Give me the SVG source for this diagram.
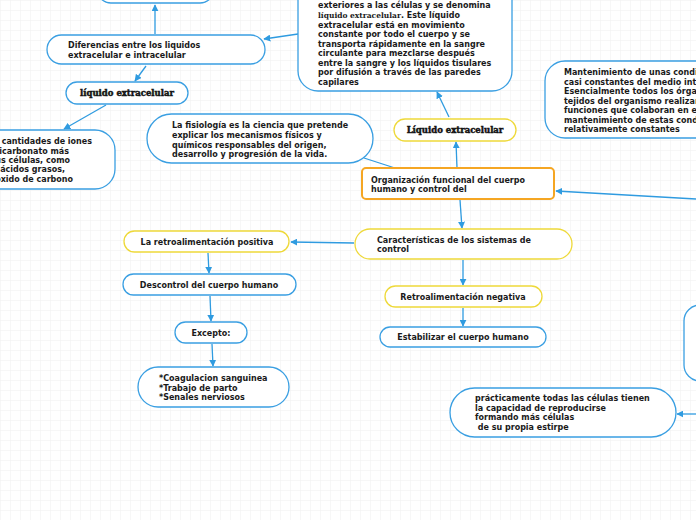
<svg xmlns="http://www.w3.org/2000/svg" width="696" height="520" viewBox="0 0 696 520">
<defs>
<pattern id="grid" width="10" height="10" patternUnits="userSpaceOnUse">
<path d="M10 0H0V10" fill="none" stroke="#f0f0f0" stroke-width="1"/>
</pattern>
<marker id="arr" viewBox="0 0 10 10" refX="9" refY="5" markerWidth="7" markerHeight="7" orient="auto" markerUnits="userSpaceOnUse">
<path d="M0 0L10 5L0 10z" fill="#2f9be0"/>
</marker>
</defs>
<style>
.b{fill:#fff;stroke:#3a9fe2;stroke-width:1.3}
.y{fill:#fff;stroke:#eed93a;stroke-width:1.3}
.o{fill:#fff;stroke:#f5a623;stroke-width:2}
.t{font-family:"DejaVu Sans",Verdana,sans-serif;font-weight:bold;font-size:8px;fill:#1a1a1a}
.c{text-anchor:middle}
.d{font-family:"DejaVu Serif","Liberation Serif",serif;font-weight:bold;font-size:8.5px;fill:#111;stroke:#111;stroke-width:0.45;text-anchor:middle}
.ln{fill:none;stroke:#2f9be0;stroke-width:1.3}
</style>
<rect width="696" height="520" fill="#fff"/>
<rect width="696" height="520" fill="url(#grid)"/>

<g id="connectors">
<line class="ln" x1="155" y1="34" x2="155" y2="5" marker-end="url(#arr)"/>
<line class="ln" x1="298" y1="34" x2="264" y2="39" marker-end="url(#arr)"/>
<line class="ln" x1="146" y1="66" x2="135" y2="81" marker-end="url(#arr)"/>
<line class="ln" x1="106" y1="105" x2="64" y2="129" marker-end="url(#arr)"/>
<line class="ln" x1="449" y1="117" x2="437" y2="92" marker-end="url(#arr)"/>
<line class="ln" x1="364" y1="158" x2="398" y2="169"/>
<line class="ln" x1="457" y1="168" x2="456" y2="142" marker-end="url(#arr)"/>
<line class="ln" x1="696" y1="199" x2="556" y2="191" marker-end="url(#arr)"/>
<line class="ln" x1="460" y1="200" x2="462" y2="228" marker-end="url(#arr)"/>
<line class="ln" x1="354" y1="243" x2="291" y2="242" marker-end="url(#arr)"/>
<line class="ln" x1="208" y1="253" x2="209" y2="273" marker-end="url(#arr)"/>
<line class="ln" x1="210" y1="296" x2="211" y2="321" marker-end="url(#arr)"/>
<line class="ln" x1="212" y1="344" x2="213" y2="366" marker-end="url(#arr)"/>
<line class="ln" x1="463" y1="260" x2="463" y2="285" marker-end="url(#arr)"/>
<line class="ln" x1="463" y1="308" x2="463" y2="326" marker-end="url(#arr)"/>
<line class="ln" x1="696" y1="414" x2="677" y2="414" marker-end="url(#arr)"/>
</g>

<g id="n-top"><rect class="b" x="97" y="-40" width="117" height="43" rx="14"/></g>

<g id="n-diferencias">
<rect class="b" x="47" y="35" width="218" height="29" rx="14.5"/>
<text class="t" x="68" y="48">Diferencias entre los liquidos</text>
<text class="t" x="68" y="58">extracelular e intracelular</text>
</g>

<g id="n-liq1">
<rect class="b" x="66" y="82" width="122" height="22" rx="11"/>
<text class="d" x="127" y="96">líquido extracelular</text>
</g>

<g id="n-left">
<rect class="b" x="-40" y="130" width="155" height="59" rx="20"/>
<text class="t" text-anchor="end" x="92" y="144">cantidades de iones</text>
<text class="t" text-anchor="end" x="69" y="154">icarbonato más</text>
<text class="t" text-anchor="end" x="70" y="163">us células, como</text>
<text class="t" text-anchor="end" x="65" y="172">ácidos grasos,</text>
<text class="t" text-anchor="end" x="73" y="182">óxido de carbono</text>
</g>

<g id="n-big">
<rect class="b" x="298" y="-30" width="214" height="121" rx="20"/>
<text class="t" x="318" y="7.5">exteriores a las células y se denomina</text>
<text class="t" x="318" y="18"><tspan style="font-family:'DejaVu Serif','Liberation Serif',serif;font-size:7.5px">líquido extracelular</tspan>. Este líquido</text>
<text class="t" x="318" y="27.5">extracelular está en movimiento</text>
<text class="t" x="318" y="37">constante por todo el cuerpo y se</text>
<text class="t" x="318" y="46.5">transporta rápidamente en la sangre</text>
<text class="t" x="318" y="56">circulante para mezclarse después</text>
<text class="t" x="318" y="65.5">entre la sangre y los líquidos tisulares</text>
<text class="t" x="318" y="75">por difusión a través de las paredes</text>
<text class="t" x="318" y="84.5">capilares</text>
</g>

<g id="n-mant">
<rect class="b" x="545" y="61" width="180" height="77" rx="20"/>
<text class="t" x="564" y="75">Mantenimiento de unas condi</text>
<text class="t" x="564" y="84.5">casi constantes del medio inte</text>
<text class="t" x="564" y="94">Esencialmente todos los órga</text>
<text class="t" x="564" y="103.5">tejidos del organismo realizan</text>
<text class="t" x="564" y="113">funciones que colaboran en el</text>
<text class="t" x="564" y="122.5">mantenimiento de estas cond</text>
<text class="t" x="564" y="132">relativamente constantes</text>
</g>

<g id="n-fisio">
<rect class="b" x="147" y="114" width="226" height="49" rx="24.5"/>
<text class="t" x="172" y="128">La fisiología es la ciencia que pretende</text>
<text class="t" x="172" y="138">explicar los mecanismos físicos y</text>
<text class="t" x="172" y="147.5">químicos responsables del origen,</text>
<text class="t" x="172" y="157">desarrollo y progresión de la vida.</text>
</g>

<g id="n-liq2">
<rect class="y" x="394" y="119" width="122" height="22" rx="11"/>
<text class="d" x="455" y="133">Líquido extracelular</text>
</g>

<g id="n-org">
<rect class="o" x="362" y="168" width="192" height="31" rx="4"/>
<text class="t" x="371" y="183">Organización funcional del cuerpo</text>
<text class="t" x="371" y="192">humano y control del</text>
</g>

<g id="n-caract">
<rect class="y" x="355" y="229" width="217" height="30" rx="15"/>
<text class="t" x="377" y="243">Características de los sistemas de</text>
<text class="t" x="377" y="252">control</text>
</g>

<g id="n-pos">
<rect class="y" x="124" y="231" width="165" height="21" rx="10.5"/>
<text class="t c" x="207" y="245">La retroalimentación positiva</text>
</g>

<g id="n-descontrol">
<rect class="b" x="123" y="274" width="173" height="21" rx="10.5"/>
<text class="t c" x="209" y="288">Descontrol del cuerpo humano</text>
</g>

<g id="n-excepto">
<rect class="b" x="175" y="322" width="72" height="21" rx="10.5"/>
<text class="t c" x="211" y="336">Excepto:</text>
</g>

<g id="n-coag">
<rect class="b" x="138" y="367" width="151" height="40" rx="20"/>
<text class="t" x="159" y="381">*Coagulacion sanguinea</text>
<text class="t" x="159" y="390.5">*Trabajo de parto</text>
<text class="t" x="159" y="400">*Senales nerviosos</text>
</g>

<g id="n-neg">
<rect class="y" x="385" y="286" width="157" height="21" rx="10.5"/>
<text class="t c" x="463" y="300">Retroalimentación negativa</text>
</g>

<g id="n-estab">
<rect class="b" x="380" y="327" width="166" height="20" rx="10"/>
<text class="t c" x="463" y="340">Estabilizar el cuerpo humano</text>
</g>

<g id="n-right"><rect class="b" x="684" y="305" width="60" height="76" rx="16"/></g>

<g id="n-pract">
<rect class="b" x="450" y="388" width="226" height="49" rx="24.5"/>
<text class="t" x="475" y="401">prácticamente todas las células tienen</text>
<text class="t" x="475" y="411">la capacidad de reproducirse</text>
<text class="t" x="475" y="420">formando más células</text>
<text class="t" x="475" y="430" xml:space="preserve"> de su propia estirpe</text>
</g>
</svg>
